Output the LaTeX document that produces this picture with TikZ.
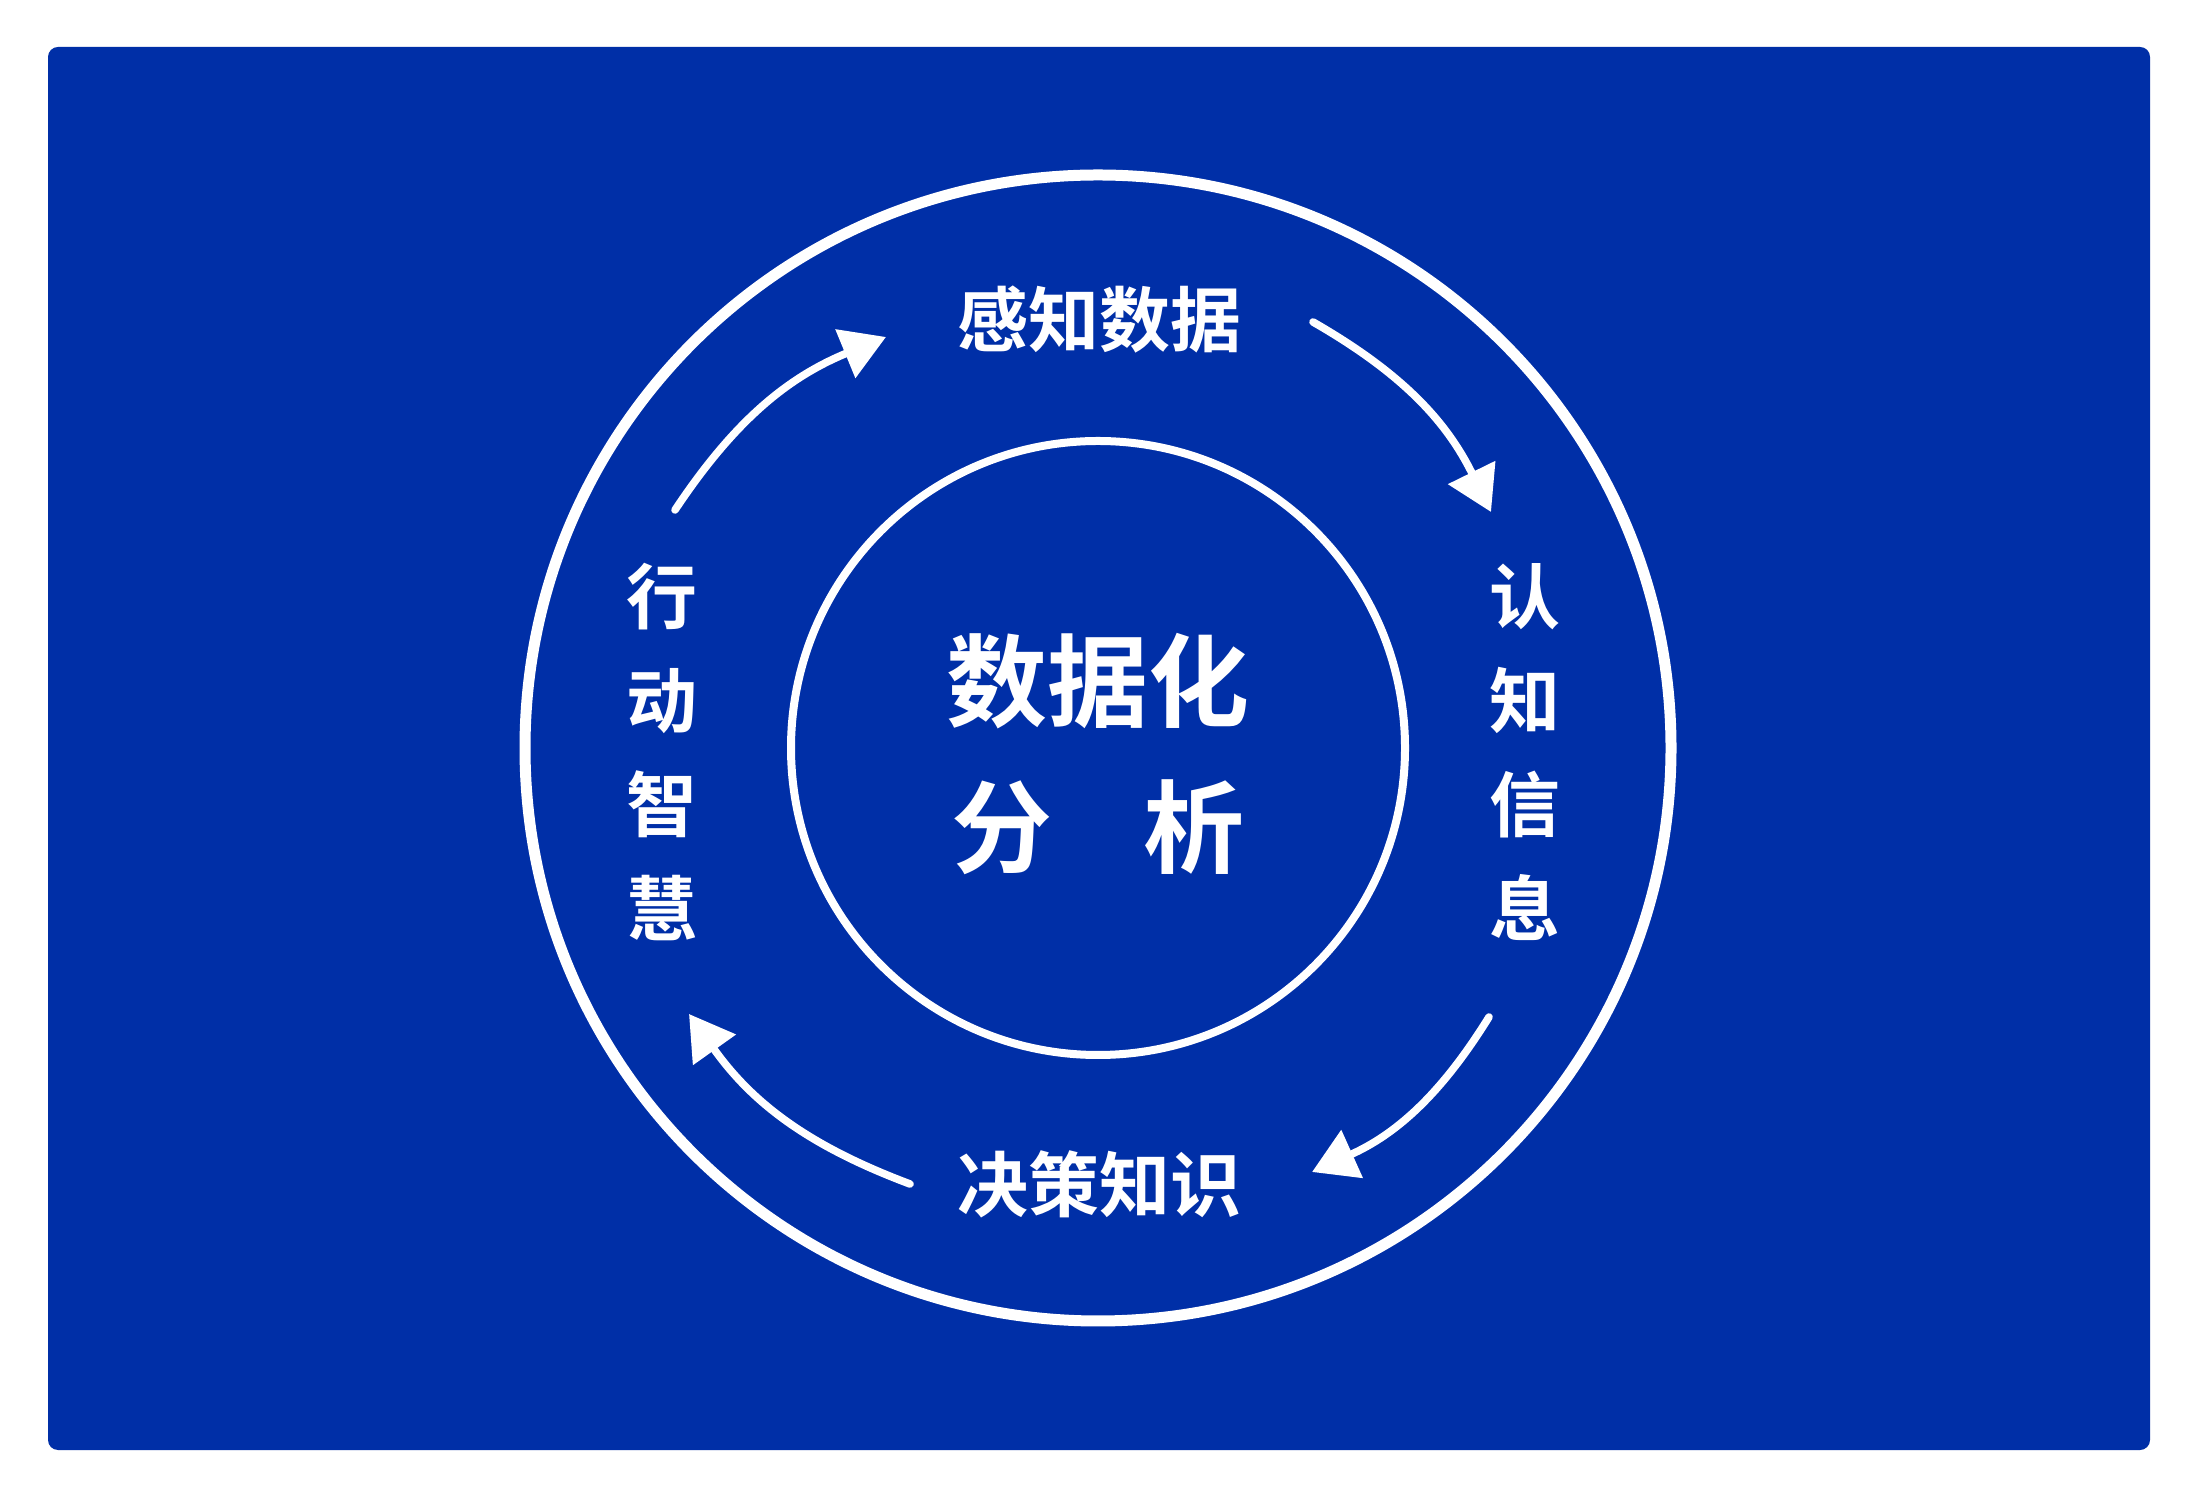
\documentclass[tikz,border=0pt]{standalone}
\usepackage{fontspec}
\newfontfamily\cjk{Noto Sans CJK SC}[BoldFont={Noto Sans CJK SC Bold}]
\usetikzlibrary{arrows.meta}
\definecolor{kblue}{HTML}{002FA7}
\tikzset{
  ring/.style={draw=white, line width=5.5pt},
  innerring/.style={draw=white, line width=4pt},
  flow/.style={draw=white, line width=3.8pt, line cap=round,
    -{Triangle[length=22pt, width=25.5pt, fill=white]}},
  lbl/.style={text=white, inner sep=0pt, font=\cjk\bfseries\fontsize{35.5}{52}\selectfont, align=center},
  title/.style={text=white, inner sep=0pt, font=\cjk\bfseries\fontsize{50.5}{73}\selectfont, align=center}
}
\begin{document}
\begin{tikzpicture}[x=0.5pt, y=0.5pt]
\useasboundingbox (0,0) rectangle (2198,1498);
\fill[white] (0,0) rectangle (2198,1498);
\fill[kblue, rounded corners=5pt] (48,48) rectangle (2150,1451);
\coordinate (c) at (1098,750);
\draw[ring] (c) circle[radius=573];
\draw[innerring] (c) circle[radius=307];
\node[title] (center) at (1098,744) {数据化\\分\hspace{45.5pt}析};
\node[lbl] (top) at (1099,1178) {感知数据};
\node[lbl] (bottom) at (1099,314) {决策知识};
\node[lbl] (left) at (662,746) {行\\动\\智\\慧};
\node[lbl] (right) at (1525,746) {认\\知\\信\\息};
\coordinate (trs) at (1313,1176);
\coordinate (tre) at (1491,986);
\coordinate (brs) at (1489,481);
\coordinate (bre) at (1312,326);
\coordinate (bls) at (910,314);
\coordinate (ble) at (689,484);
\coordinate (tls) at (675,988);
\coordinate (tle) at (886,1161);
\draw[flow] (trs) to[bend left=17] (tre);
\draw[flow] (brs) to[bend left=17] (bre);
\draw[flow] (bls) to[bend left=17] (ble);
\draw[flow] (tls) to[bend left=17] (tle);
\end{tikzpicture}
\end{document}
